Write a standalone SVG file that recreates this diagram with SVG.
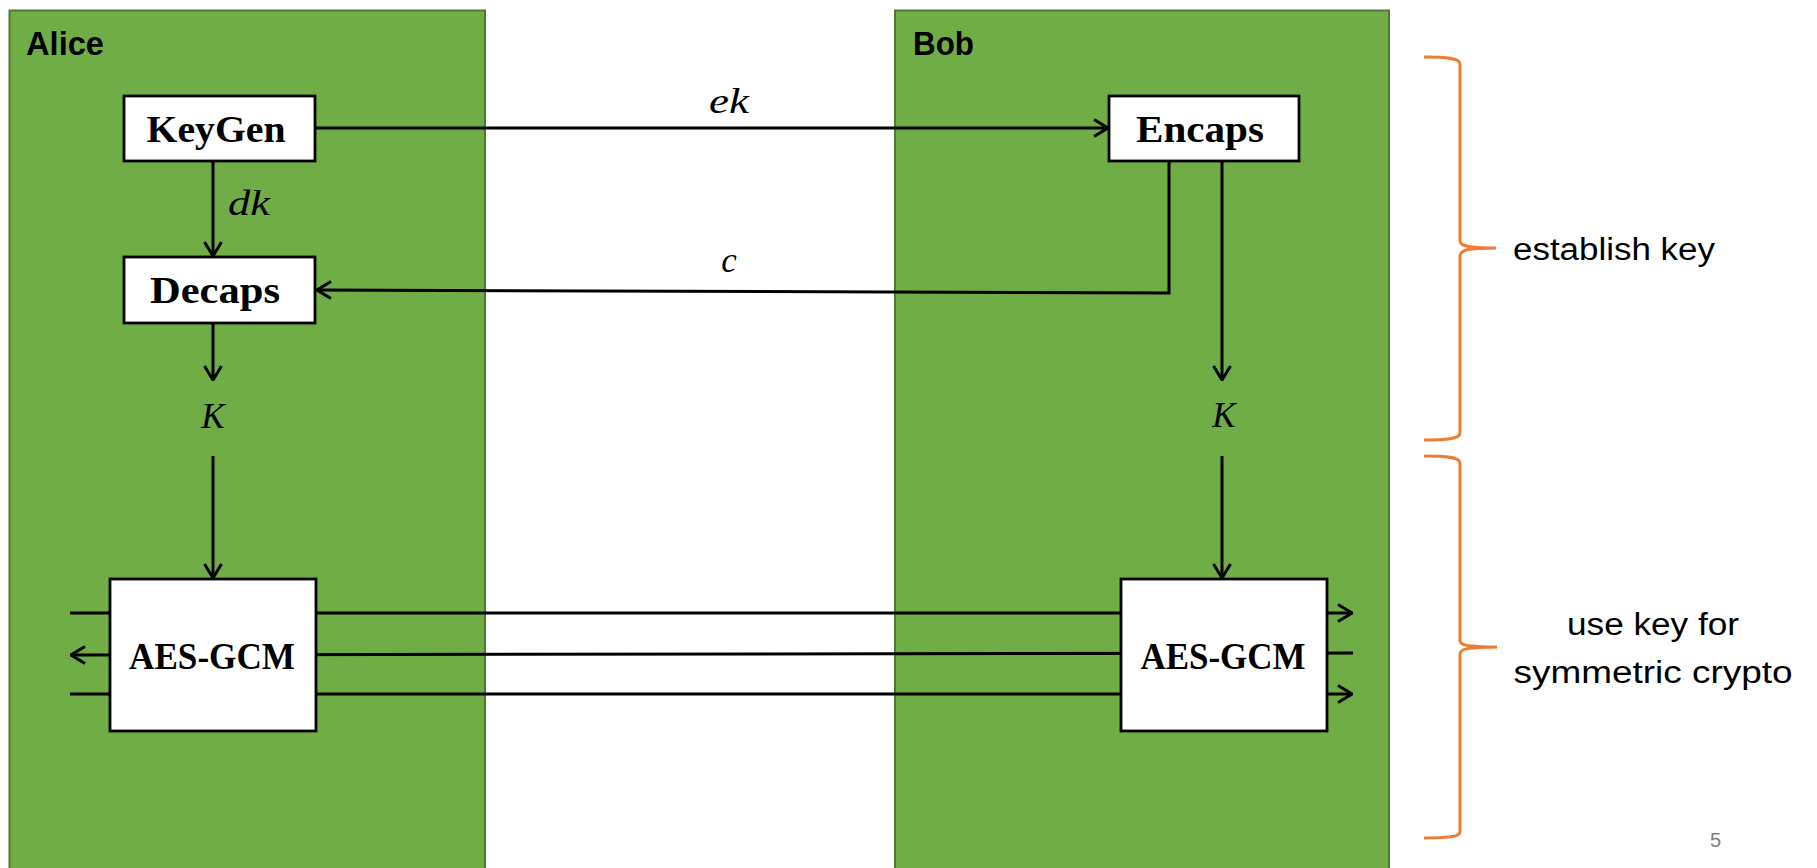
<svg xmlns="http://www.w3.org/2000/svg" width="1817" height="868" viewBox="0 0 1817 868">
<style>
.panel{fill:#70AD47;stroke:#4F7A32;stroke-width:2}
.box{fill:#fff;stroke:#000;stroke-width:2.8}
.boxt{font-family:"Liberation Serif",serif;font-weight:bold;font-size:38px;fill:#000;text-anchor:middle}
.math{font-family:"Liberation Serif",serif;font-style:italic;font-size:35px;fill:#000}
.name{font-family:"Liberation Sans",sans-serif;font-weight:bold;font-size:33px;fill:#000}
.lbl{font-family:"Liberation Sans",sans-serif;font-size:31px;fill:#000}
.conn{fill:none;stroke:#000;stroke-width:3}
.brace{fill:none;stroke:#ED7D31;stroke-width:3}
</style>
<defs>
<marker id="arr" markerUnits="userSpaceOnUse" viewBox="0 0 16 20" refX="15" refY="10" markerWidth="16" markerHeight="20" orient="auto">
<path d="M1,1.5 L15,10 L1,18.5" fill="none" stroke="#000" stroke-width="3"/>
</marker>
</defs>
<rect width="1817" height="868" fill="#fff"/>
<g id="alice">
<rect class="panel" x="9.5" y="10.5" width="475.5" height="870"/>
<text class="name" x="26" y="55" textLength="78" lengthAdjust="spacingAndGlyphs">Alice</text>
</g>
<g id="bob">
<rect class="panel" x="895" y="10.5" width="494" height="870"/>
<text class="name" x="913" y="55" textLength="61" lengthAdjust="spacingAndGlyphs">Bob</text>
</g>
<g id="connectors">
<path class="conn" d="M315,128 L1108,128" marker-end="url(#arr)"/>
<text class="math" x="729" y="113" text-anchor="middle" textLength="40" lengthAdjust="spacingAndGlyphs">ek</text>
<path class="conn" d="M213,161 L213,256" marker-end="url(#arr)"/>
<text class="math" x="228" y="215" textLength="42" lengthAdjust="spacingAndGlyphs">dk</text>
<path class="conn" d="M1169,161 L1169,293 L317,290" marker-end="url(#arr)"/>
<text class="math" x="729" y="272" text-anchor="middle">c</text>
<path class="conn" d="M213,323 L213,380" marker-end="url(#arr)"/>
<path class="conn" d="M213,456 L213,578" marker-end="url(#arr)"/>
<path class="conn" d="M1222,161 L1222,380" marker-end="url(#arr)"/>
<path class="conn" d="M1222,456 L1222,578" marker-end="url(#arr)"/>
<path class="conn" d="M70,613 L1352,613" marker-end="url(#arr)"/>
<path class="conn" d="M1353,653 L71,655" marker-end="url(#arr)"/>
<path class="conn" d="M70,694 L1352,694" marker-end="url(#arr)"/>
</g>
<g id="k-alice"><text class="math" x="213" y="428" text-anchor="middle">K</text></g>
<g id="k-bob"><text class="math" x="1224" y="427" text-anchor="middle">K</text></g>
<g id="keygen">
<rect class="box" x="124" y="96" width="191" height="65"/>
<text class="boxt" x="216" y="142" textLength="139" lengthAdjust="spacingAndGlyphs">KeyGen</text>
</g>
<g id="decaps">
<rect class="box" x="124" y="257" width="191" height="66"/>
<text class="boxt" x="215" y="303" textLength="130" lengthAdjust="spacingAndGlyphs">Decaps</text>
</g>
<g id="encaps">
<rect class="box" x="1109" y="96" width="190" height="65"/>
<text class="boxt" x="1200" y="142" textLength="128" lengthAdjust="spacingAndGlyphs">Encaps</text>
</g>
<g id="aes-alice">
<rect class="box" x="110" y="579" width="206" height="152"/>
<text class="boxt" x="212" y="669" textLength="166" lengthAdjust="spacingAndGlyphs">AES-GCM</text>
</g>
<g id="aes-bob">
<rect class="box" x="1121" y="579" width="206" height="152"/>
<text class="boxt" x="1223" y="669" textLength="165" lengthAdjust="spacingAndGlyphs">AES-GCM</text>
</g>
<g id="brace-establish">
<path class="brace" d="M1424,57 C1446,57 1460,58 1460,64 L1460,241 C1460,246 1468,248 1496,248 C1468,248 1460,250 1460,256 L1460,433 C1460,439 1446,440 1424,440"/>
<text class="lbl" x="1513" y="260" textLength="202" lengthAdjust="spacingAndGlyphs">establish key</text>
</g>
<g id="brace-use">
<path class="brace" d="M1424,456 C1446,456 1460,457 1460,463 L1460,641 C1460,645 1468,647 1497,647 C1468,647 1460,649 1460,654 L1460,832 C1460,837 1446,838 1424,838"/>
<text class="lbl" x="1653" y="635" text-anchor="middle" textLength="172" lengthAdjust="spacingAndGlyphs">use key for</text>
<text class="lbl" x="1653" y="683" text-anchor="middle" textLength="279" lengthAdjust="spacingAndGlyphs">symmetric crypto</text>
</g>
<g id="page"><text x="1710" y="847" font-family="Liberation Sans, sans-serif" font-size="20" fill="#7F7F7F">5</text></g>
</svg>
